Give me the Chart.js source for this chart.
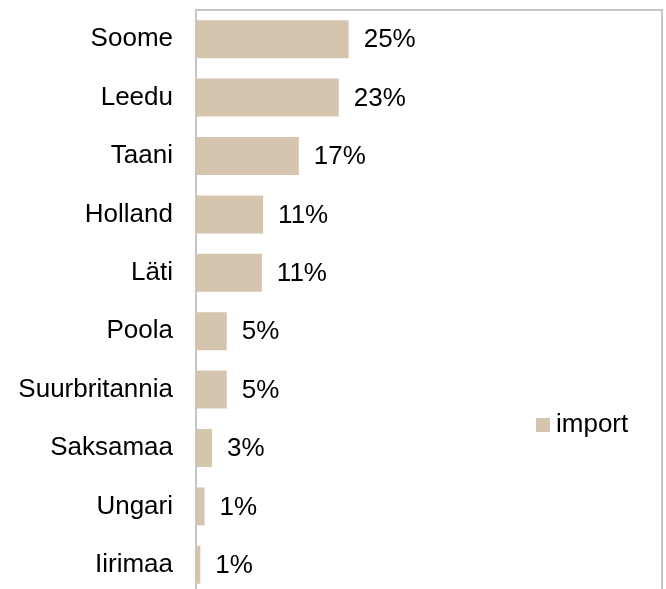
<!DOCTYPE html>
<html>
<head>
<meta charset="utf-8">
<script src="https://cdn.jsdelivr.net/npm/chart.js@4/dist/chart.umd.min.js"></script>
<style>
  html, body { margin: 0; padding: 0; background: #fff; overflow: hidden; }
  canvas { display: block; }
</style>
</head>
<body>
<canvas id="chart" width="666" height="594"></canvas>
<script>
// data (share of import, %)
var countries = ["Soome", "Leedu", "Taani", "Holland", "Läti", "Poola", "Suurbritannia", "Saksamaa", "Ungari", "Iirimaa"];
var importShare = [24.8, 23.2, 16.7, 10.9, 10.7, 5.0, 5.0, 2.6, 1.4, 0.7];
var seriesName = "import";

var barColor = "#d5c5ae";
var lineColor = "#c6c6c6";
var font = "'Liberation Sans', Arial, sans-serif";

// value labels next to each bar
var labelsPlugin = {
  id: "barLabels",
  afterDatasetsDraw: function (chart) {
    var ctx = chart.ctx;
    var meta = chart.getDatasetMeta(0);
    ctx.save();
    ctx.font = "26px " + font;
    ctx.fillStyle = "#000";
    ctx.textAlign = "left";
    ctx.textBaseline = "middle";
    meta.data.forEach(function (bar, i) {
      ctx.fillText(Math.round(importShare[i]) + "%", bar.x + 15, bar.y + 1);
    });
    ctx.restore();
  }
};

// top + right frame and the legend inside the plot
var framePlugin = {
  id: "frame",
  afterDraw: function (chart) {
    var ctx = chart.ctx;
    var a = chart.chartArea;
    ctx.save();
    ctx.strokeStyle = lineColor;
    ctx.lineWidth = 2;
    ctx.beginPath();
    ctx.moveTo(a.left - 1, a.top);
    ctx.lineTo(a.right, a.top);
    ctx.lineTo(a.right, a.bottom);
    ctx.stroke();

    // legend
    ctx.fillStyle = barColor;
    ctx.fillRect(536, 418, 14, 14);
    ctx.fillStyle = "#000";
    ctx.font = "26px " + font;
    ctx.textBaseline = "middle";
    ctx.fillText(seriesName, 556, 425);
    ctx.restore();
  }
};

var mychart = document.getElementById("chart").getContext("2d");
var chart = new Chart(mychart, {
  type: "bar",
  data: {
    labels: countries,
    datasets: [{
      label: seriesName,
      data: importShare,
      backgroundColor: barColor,
      barPercentage: 0.65,
      categoryPercentage: 1
    }]
  },
  options: {
    indexAxis: "y",
    responsive: false,
    animation: false,
    devicePixelRatio: 1,
    layout: { padding: { top: 10, right: 4, bottom: 0, left: 0 } },
    plugins: {
      legend: { display: false },
      tooltip: { enabled: false }
    },
    scales: {
      x: {
        display: false,
        min: 0,
        max: 75.7
      },
      y: {
        afterFit: function (scale) {
          scale.width = 196;
          scale.paddingTop = 0;
          scale.paddingBottom = 0;
        },
        grid: { display: false, drawTicks: false },
        border: { display: true, color: lineColor, width: 2 },
        ticks: {
          padding: 23,
          color: "#000",
          font: { size: 26, family: font }
        }
      }
    }
  },
  plugins: [labelsPlugin, framePlugin]
});
</script>
</body>
</html>
